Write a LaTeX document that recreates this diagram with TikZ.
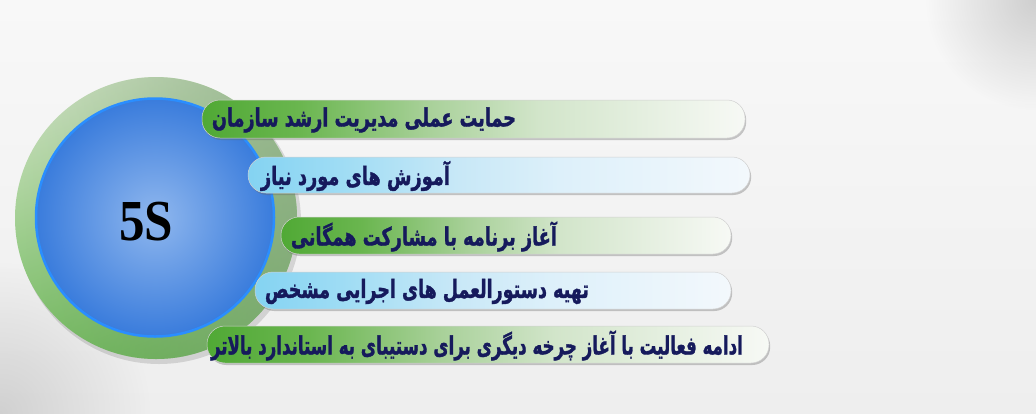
\documentclass[tikz,border=0pt]{standalone}
\usepackage{fontspec}
\usetikzlibrary{fadings,shadows}
\TeXXeTstate=1
\newfontfamily\arabicfont[Script=Arabic, FakeBold=1.6]{DejaVu Sans Bold}
\newfontfamily\serifbold{Liberation Serif}
\definecolor{bgTop}{HTML}{F8F8F8}
\definecolor{bgBot}{HTML}{EEEEEE}
\definecolor{cornerGray}{HTML}{BDBDBD}
\definecolor{gA}{HTML}{50A935}
\definecolor{gA2}{HTML}{6AB64F}
\definecolor{gB}{HTML}{A9D19A}
\definecolor{gB2}{HTML}{D2E5CA}
\definecolor{gC}{HTML}{F7F9F5}
\definecolor{bA}{HTML}{84D3F2}
\definecolor{bA2}{HTML}{9EDCF4}
\definecolor{bB}{HTML}{C8E8F7}
\definecolor{bB2}{HTML}{DDF0FA}
\definecolor{bC}{HTML}{F3F8FC}
\definecolor{ringTop}{HTML}{C6DFBA}
\definecolor{ringBot}{HTML}{5FB348}
\definecolor{ringGray}{HTML}{8FA58A}
\definecolor{discIn}{HTML}{8FB7EE}
\definecolor{discOut}{HTML}{3A7CDC}
\definecolor{discRim}{HTML}{2A8EFF}
\definecolor{navy}{HTML}{161A5C}
\pgfdeclarehorizontalshading{greenbar}{100bp}{color(0bp)=(gA); color(25bp)=(gA); color(34bp)=(gA2); color(46bp)=(gB); color(56bp)=(gB2); color(75bp)=(gC); color(100bp)=(gC)}
\pgfdeclarehorizontalshading{bluebar}{100bp}{color(0bp)=(bA); color(25bp)=(bA); color(34bp)=(bA2); color(46bp)=(bB); color(56bp)=(bB2); color(75bp)=(bC); color(100bp)=(bC)}
\tikzfading[name=radfade, inner color=transparent!0, outer color=transparent!100]
\tikzfading[name=rightfade, left color=transparent!100, right color=transparent!35]
\tikzset{
  barbase/.style={rounded corners=18pt, draw=black!18, line width=0.5pt,
    drop shadow={shadow xshift=1.2pt, shadow yshift=-2pt, opacity=0.35, fill=black!60}},
  greenbarbox/.style={barbase, shading=greenbar},
  bluebarbox/.style={barbase, shading=bluebar},
  bartext/.style={anchor=west, inner sep=0pt, text=navy, font=\arabicfont\fontsize{25}{28}\selectfont}
}
\begin{document}
\begin{tikzpicture}[x=1pt,y=-1pt]
\useasboundingbox (0,0) rectangle (1036,413);
% background
\shade[top color=bgTop, bottom color=bgBot] (0,0) rectangle (1036,413);
\begin{scope}
\clip (0,0) rectangle (1036,413);
\fill[cornerGray, path fading=radfade, opacity=0.7] (1036,0) circle (110);
\fill[cornerGray, path fading=radfade, opacity=0.6] (0,413) circle (150);
\end{scope}
% ring and disc
\fill[black, opacity=0.12] (159,222) circle (142);
\node[circle, minimum size=282pt, inner sep=0pt, shading=axis, top color=ringTop, bottom color=ringBot, shading angle=20] (ring) at (156,218) {};
\fill[ringGray, path fading=rightfade] (156,218) circle (141);
\node[circle, minimum size=238pt, inner sep=0pt, draw=discRim, line width=2.5pt, inner color=discIn, outer color=discOut] (disc) at (155,217.5) {};
\node[inner sep=0pt, font=\serifbold\bfseries\fontsize{58}{58}\selectfont] (label) at (146,222) {\resizebox{54pt}{\height}{5S}};
% bars
\node[greenbarbox, minimum width=543pt, minimum height=38pt, inner sep=0pt] (b1) at (473.5,119) {};
\node[bluebarbox, minimum width=502pt, minimum height=36pt, inner sep=0pt] (b2) at (499,175) {};
\node[greenbarbox, minimum width=450pt, minimum height=37pt, inner sep=0pt] (b3) at (506,235.5) {};
\node[bluebarbox, minimum width=476pt, minimum height=37pt, inner sep=0pt] (b4) at (493,290.5) {};
\node[greenbarbox, minimum width=562pt, minimum height=37pt, inner sep=0pt] (b5) at (488,344.5) {};
% texts
\node[bartext] (t1) at ([xshift=10pt,yshift=-1pt]b1.west) {\resizebox{304pt}{\height}{\beginR حمایت عملی مدیریت ارشد سازمان\endR}};
\node[bartext] (t2) at ([xshift=13pt,yshift=-1pt]b2.west) {\resizebox{189pt}{\height}{\beginR آموزش های مورد نیاز\endR}};
\node[bartext] (t3) at ([xshift=10pt,yshift=-1pt]b3.west) {\resizebox{266pt}{\height}{\beginR آغاز برنامه  با مشارکت همگانی\endR}};
\node[bartext] (t4) at ([xshift=10pt,yshift=-1pt]b4.west) {\resizebox{324pt}{\height}{\beginR تهیه دستورالعمل های اجرایی مشخص\endR}};
\node[bartext] (t5) at ([xshift=4pt,yshift=-1pt]b5.west) {\resizebox{532pt}{\height}{\beginR ادامه فعالیت با آغاز چرخه دیگری برای دستیبای به استاندارد بالاتر\endR}};
\end{tikzpicture}
\end{document}
